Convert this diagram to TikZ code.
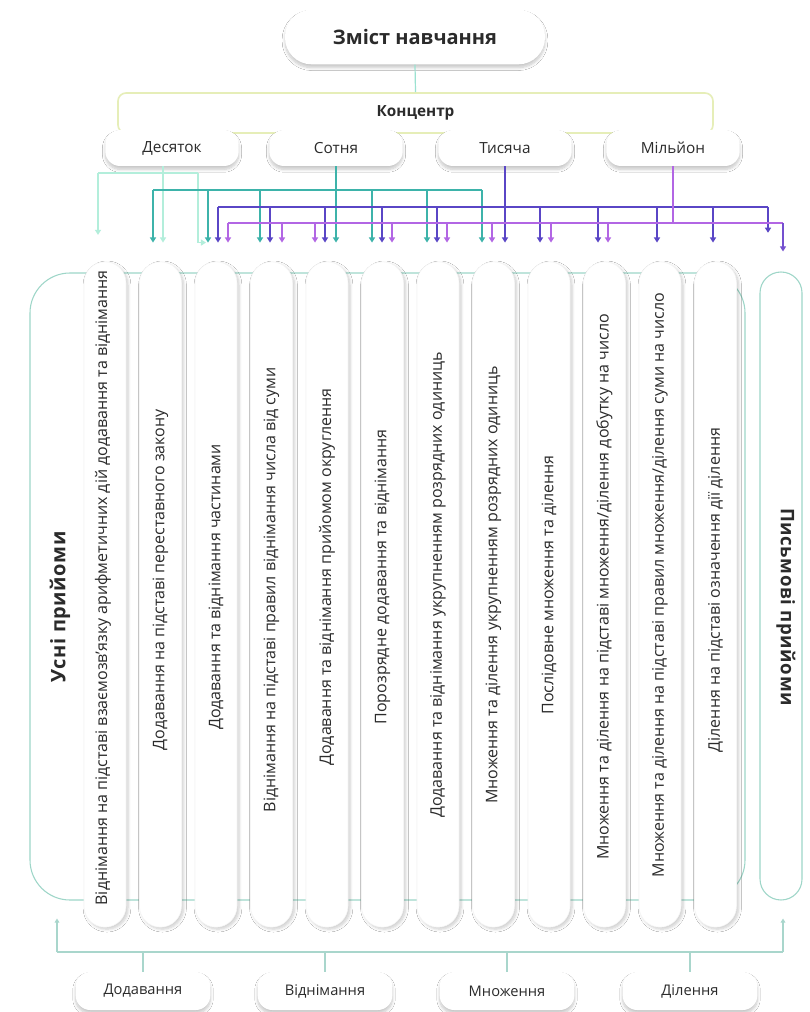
\documentclass[tikz,border=0pt]{standalone}
\usepackage{fontspec}
\setmainfont{Open Sans}
\usetikzlibrary{arrows.meta,shadows.blur,calc}
\definecolor{ink}{HTML}{2B2B2B}
\definecolor{cteal}{HTML}{3DB3AA}
\definecolor{cmint}{HTML}{B3EEDB}
\definecolor{cind}{HTML}{5A46C6}
\definecolor{cvio}{HTML}{B266E4}
\definecolor{cyel}{HTML}{E6EEB8}
\definecolor{cout}{HTML}{9ED6C8}
\definecolor{cbot}{HTML}{A9D6CC}
\begin{document}
\begin{tikzpicture}[x=0.75pt,y=-0.75pt,
 box/.style={fill=white, rounded corners=11pt, blur shadow={shadow xshift=0pt, shadow yshift=-2.5pt, shadow blur steps=8, shadow opacity=22}, text=ink, inner sep=0pt},
 col/.style={fill=white, draw=black!4, rounded corners=15.75pt, minimum width=31.5pt, minimum height=499pt, blur shadow={shadow xshift=1.5pt, shadow yshift=-1.5pt, shadow blur steps=6, shadow opacity=20}, inner sep=0pt},
 ctext/.style={rotate=90, text=ink, font=\fontsize{12}{14}\selectfont, inner sep=0pt},
 arr/.style={-{Triangle[width=4.5pt,length=3.8pt]}},
 lw/.style={line width=0.9pt},
 sh/.style={shorten >=14.25pt},
]
\fill[white] (0,0) rectangle (809,1012);
\useasboundingbox (0,0) rectangle (809,1012);

% title and concentr
\node[box, rounded corners=20pt, minimum width=195pt, minimum height=41pt, font=\fontsize{15}{18}\selectfont\bfseries] (title) at (415,37) {Зміст навчання};
\node[draw=cyel, line width=1.2pt, rounded corners=6pt, minimum width=446.25pt, minimum height=30pt, inner sep=0pt, text=ink, font=\fontsize{11.5}{14}\selectfont\bfseries] (konc) at (415.5,113) {Концентр};
\draw[cmint!80!cteal, lw] (title.south) -- (konc.north);

% second row
\foreach \n/\x/\t in {des/172/Десяток, sot/336/Сотня, tys/505/Тисяча, mil/673/Мільйон}
  \node[box, minimum width=100pt, minimum height=27pt, font=\fontsize{11.5}{13}\selectfont] (\n) at (\x,148) {\t};

% big oral box
\node[draw=cout, line width=0.8pt, rounded corners=30pt, minimum width=536.25pt, minimum height=470.25pt, inner sep=0pt] (usni) at (387.5,586.5) {};
\node[rotate=90, text=ink, font=\fontsize{15}{17}\selectfont\bfseries\addfontfeatures{LetterSpace=3}, inner sep=0pt] (usnit) at (60,607) {Усні прийоми};

% columns
\foreach \i in {1,...,12}
  \node[col] (c\i) at ({105+55.5*(\i-1)},594.5) {};

% right pill
\node[draw=cout, line width=0.8pt, fill=white, rounded corners=15.75pt, minimum width=31.5pt, minimum height=471pt, inner sep=0pt] (pys) at (781,586) {};
\node[rotate=-90, text=ink, font=\fontsize{14}{16}\selectfont\bfseries\addfontfeatures{LetterSpace=3}, inner sep=0pt] (pyst) at (786,607) {Письмові прийоми};

% column texts
\node[ctext] (t1) at (103,588) {Віднімання на підставі взаємозв’язку арифметичних дій додавання та віднімання};
\node[ctext] (t2) at (160.5,580) {Додавання на підставі переставного закону};
\node[ctext] (t3) at (216,587) {Додавання та віднімання частинами};
\node[ctext] (t4) at (271.5,590) {Віднімання на підставі правил віднімання числа від суми};
\node[ctext] (t5) at (327,577) {Додавання та віднімання прийомом округлення};
\node[ctext] (t6) at (382.5,577) {Порозрядне додавання та віднімання};
\node[ctext] (t7) at (438,585) {Додавання та віднімання укрупненням розрядних одиниць};
\node[ctext] (t8) at (493.5,585) {Множення та ділення укрупненням розрядних одиниць};
\node[ctext] (t9) at (549,585) {Послідовне множення та ділення};
\node[ctext] (t10) at (604.5,587) {Множення та ділення на підставі множення/ділення добутку на число};
\node[ctext] (t11) at (660,585) {Множення та ділення на підставі правил множення/ділення суми на число};
\node[ctext] (t12) at (715.5,590) {Ділення на підставі означення дії ділення};

% Десяток (faint mint)
\draw[cmint, lw] (des.south -| 163,0) -- (163,173);
\draw[cmint, lw] (98,173) -- (198,173);
\draw[cmint, lw, arr, shorten >=20pt] (98,173) -- (c1.north -| 98,0);
\draw[cmint, lw, arr, sh] (163,173) -- (c2.north -| 163,0);
\draw[cmint, lw, arr] (198,173) |- ($(c3.north -| 206,0)+(0,-19)$);

% Сотня (teal)
\draw[cteal, lw] (153,190) -- (482,190);
\draw[cteal, lw, arr, sh] (sot.south) -- (c5.north -| sot.south);
\foreach \x/\c in {153/2,208/3,260/4,372/6,427/7,482/8}
  \draw[cteal, lw, arr, sh] (\x,190) -- (c\c.north -| \x,0);

% Тисяча (indigo)
\draw[cind, lw] (218,207) -- (768,207);
\draw[cind, lw, arr, sh] (tys.south) -- (c8.north -| tys.south);
\foreach \x/\c in {218/3,270/4,325/5,382/6,437/7,540/9,598/10,657/11,713/12}
  \draw[cind, lw, arr, sh] (\x,207) -- (c\c.north -| \x,0);
\draw[cind, lw, arr, shorten >=29pt] (768,207) -- (pys.north -| 768,0);

% Мільйон (violet)
\draw[cvio, lw] (mil.south) -- (mil.south |- 0,223);
\draw[cvio, lw] (228,223) -- (783,223);
\foreach \x/\c in {228/3,282/4,315/5,392/6,447/7,492/8,551/9,608/10}
  \draw[cvio, lw, arr, sh] (\x,223) -- (c\c.north -| \x,0);
\draw[cind!70!cvio, lw, arr, shorten >=15pt] (783,223) -- (pys.north -| 783,0);

% bottom
\foreach \n/\x/\t in {bdod/143/Додавання, bvid/325/Віднімання, bmno/507/Множення, bdil/690/Ділення}
  \node[box, minimum width=101pt, minimum height=28.5pt, font=\fontsize{11}{13}\selectfont] (\n) at (\x,991) {\t};
\coordinate (bl) at (57,952);
\coordinate (br) at (783,952);
\draw[cbot, lw] (bl) -- (br);
\draw[cbot, lw, -{Triangle[width=3.5pt,length=3pt]}, shorten >=13.5pt] (bl) -- (bl |- usni.south);
\draw[cbot, lw, -{Triangle[width=3.5pt,length=3pt]}, shorten >=13.5pt] (br) -- (br |- pys.south);
\foreach \n in {bdod,bvid,bmno,bdil}
  \draw[cbot, lw] (\n.north) -- (\n.north |- bl);
\end{tikzpicture}
\end{document}
